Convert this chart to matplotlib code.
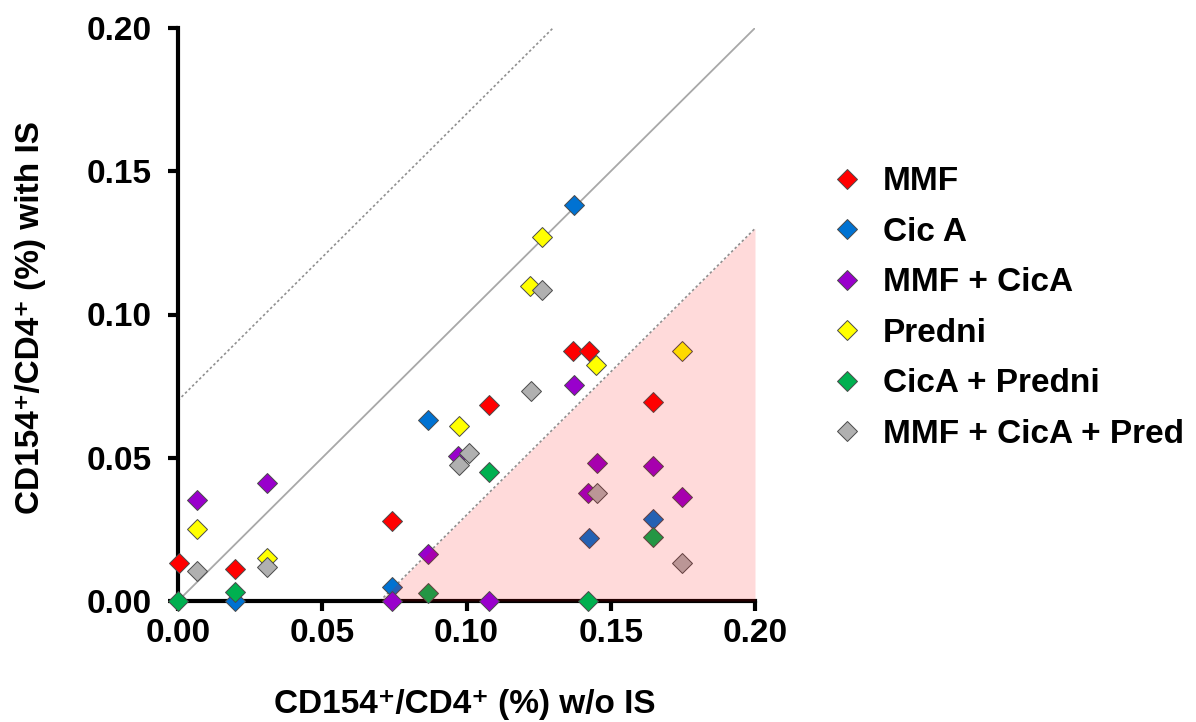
import matplotlib
matplotlib.use("Agg")
import matplotlib.pyplot as plt
from matplotlib.lines import Line2D
import numpy as np

plt.rcParams['font.family'] = ['Liberation Sans', 'DejaVu Sans']

series_names = ["MMF", "Cic A", "MMF + CicA", "Predni", "CicA + Predni", "MMF + CicA + Pred"]
series_colors = ["#ff0000", "#0072d2", "#9900cc", "#ffff00", "#00b050", "#b0b0b0"]

mmf_x = [0.0005, 0.0198, 0.0743, 0.1079, 0.1370, 0.1426, 0.1648]
mmf_y = [0.0134, 0.0111, 0.0279, 0.0684, 0.0873, 0.0873, 0.0696]

cica_x = [0.0198, 0.0743, 0.0868, 0.1374, 0.1425, 0.1648]
cica_y = [0.0000, 0.0048, 0.0632, 0.1382, 0.0219, 0.0285]

mmf_cica_x = [0.0067, 0.0310, 0.0743, 0.0868, 0.0972, 0.1079, 0.1373, 0.1422, 0.1451, 0.1648, 0.1748]
mmf_cica_y = [0.0353, 0.0413, 0.0000, 0.0164, 0.0506, 0.0000, 0.0754, 0.0376, 0.0480, 0.0471, 0.0364]

predni_x = [0.0067, 0.0310, 0.0974, 0.1220, 0.1261, 0.1449, 0.1748]
predni_y = [0.0251, 0.0149, 0.0611, 0.1100, 0.1269, 0.0824, 0.0873]

cica_predni_x = [0.0000, 0.0198, 0.0868, 0.1079, 0.1422, 0.1648]
cica_predni_y = [0.0000, 0.0033, 0.0029, 0.0451, 0.0000, 0.0225]

triple_x = [0.0067, 0.0310, 0.0974, 0.1010, 0.1222, 0.1263, 0.1451, 0.1748]
triple_y = [0.0106, 0.0120, 0.0475, 0.0515, 0.0733, 0.1086, 0.0376, 0.0134]

series_x = [mmf_x, cica_x, mmf_cica_x, predni_x, cica_predni_x, triple_x]
series_y = [mmf_y, cica_y, mmf_cica_y, predni_y, cica_predni_y, triple_y]

band_offset = 0.07
ticks = [0.00, 0.05, 0.10, 0.15, 0.20]
tick_labels = ["0.00", "0.05", "0.10", "0.15", "0.20"]

FS = 24

fig = plt.figure(figsize=(11.96, 7.22), dpi=100)
ax = fig.add_axes([178/1196, 121/722, 577/1196, 573/722])

ax.set_xlim(0, 0.20)
ax.set_ylim(0, 0.20)

# reference lines
lx = np.array([0.0, 0.20])
ax.plot(lx, lx, color="#a8a8a8", lw=1.3, zorder=2)
ux = np.array([0.0, 0.20 - band_offset])
ax.plot(ux, ux + band_offset, color="#909090", lw=1.2, ls=(0, (1.5, 1.5)), zorder=2)
dx = np.array([band_offset, 0.20])
ax.plot(dx, dx - band_offset, color="#909090", lw=1.2, ls=(0, (1.5, 1.5)), zorder=2)

# pink region (drawn over markers)
ax.fill_between(dx, 0, dx - band_offset, color="#ff0000", alpha=0.145, lw=0, zorder=4)

msize = 9.8
for xs, ys, c in zip(series_x, series_y, series_colors):
    xs = np.asarray(xs); ys = np.asarray(ys)
    on_axis = (ys == 0) & (xs > band_offset)
    ax.plot(xs[~on_axis], ys[~on_axis], ls="none", marker="D", ms=msize, mfc=c,
            mec="#4a4a4a", mew=0.7, zorder=3, clip_on=False)
    ax.plot(xs[on_axis], ys[on_axis], ls="none", marker="D", ms=msize, mfc=c,
            mec="#4a4a4a", mew=0.7, zorder=5, clip_on=False)

for s in ["top", "right"]:
    ax.spines[s].set_visible(False)
for s in ["left", "bottom"]:
    ax.spines[s].set_linewidth(3)
    ax.spines[s].set_color("black")

ax.set_xticks(ticks)
ax.set_yticks(ticks)
ax.set_xticklabels(tick_labels)
ax.set_yticklabels(tick_labels)
ax.tick_params(axis="both", direction="out", length=7, width=3, labelsize=FS)
ax.tick_params(axis="x", pad=5)
ax.tick_params(axis="y", pad=12)
for lab in ax.get_xticklabels() + ax.get_yticklabels():
    lab.set_fontweight("bold")

ax.set_xlabel("CD154\u207a/CD4\u207a (%) w/o IS", fontsize=FS, fontweight="bold")
ax.set_ylabel("CD154\u207a/CD4\u207a (%) with IS", fontsize=FS, fontweight="bold")
ax.xaxis.set_label_coords(0.497, -(704 - 601) / 573, transform=ax.transAxes)
ax.xaxis.label.set_va("center")
ax.yaxis.set_label_coords(-(178 - 31) / 577, 0.495, transform=ax.transAxes)
ax.yaxis.label.set_va("center")

handles = [Line2D([0], [0], ls="none", marker="D", ms=msize, mfc=c, mec="#4a4a4a", mew=0.7)
           for c in series_colors]
fig.legend(handles, series_names, loc="upper left", bbox_to_anchor=(822/1196, 1 - 153/722),
           frameon=False, prop={"size": FS, "weight": "bold"}, handlelength=0.7,
           handletextpad=0.72, labelspacing=0.585, borderaxespad=0)

fig.savefig("out.png", dpi=100)
